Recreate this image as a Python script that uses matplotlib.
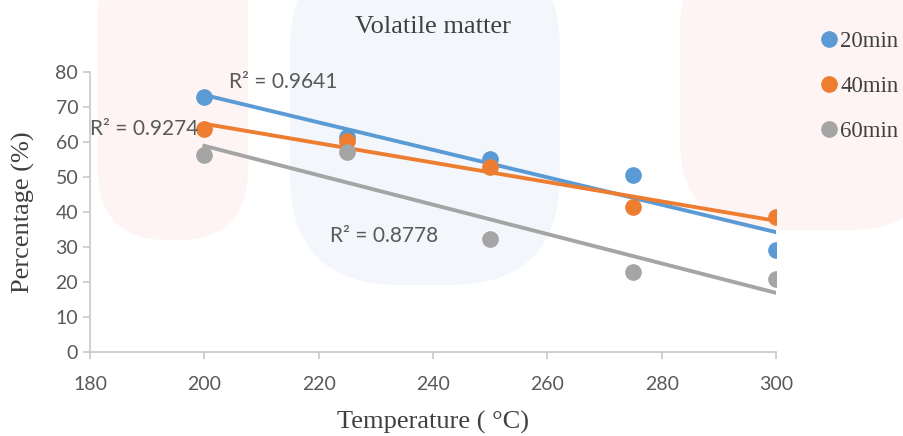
import numpy as np
import matplotlib.pyplot as plt
from matplotlib.patches import FancyBboxPatch

# data
temperatur = [200, 225, 250, 275, 300]
serier = ["20min", "40min", "60min"]
verdier_20 = [72.8, 61.5, 55.0, 50.7, 29.2]
verdier_40 = [63.8, 60.2, 52.8, 41.3, 38.6]
verdier_60 = [56.2, 57.2, 32.4, 22.8, 20.9]
r2_tekst = ["R² = 0.9641", "R² = 0.9274", "R² = 0.8778"]

farger = ["#5B9BD5", "#ED7D31", "#A5A5A5"]
r2_pos = [(204.3, 77.0), (180.0, 63.8), (222.0, 33.2)]

fig = plt.figure(figsize=(9.04, 4.36), dpi=100)

# faint watermark shapes in the background
wm = fig.add_axes([0, 0, 1, 1], zorder=-1)
wm.set_xlim(0, 904)
wm.set_ylim(436, 0)
wm.axis("off")
wm.add_patch(FancyBboxPatch((98, -60), 150, 300, boxstyle="round,pad=0,rounding_size=70",
                            fc="#fef4f4", ec="none"))
wm.add_patch(FancyBboxPatch((290, -60), 270, 345, boxstyle="round,pad=0,rounding_size=110",
                            fc="#f3f6fa", ec="none"))
wm.add_patch(FancyBboxPatch((680, -60), 260, 290, boxstyle="round,pad=0,rounding_size=90",
                            fc="#fef4f4", ec="none"))

ax = fig.add_axes([90 / 904, 1 - 352 / 436, 686 / 904, 280 / 436])
ax.patch.set_alpha(0)

for verdier, navn, farge in zip([verdier_20, verdier_40, verdier_60], serier, farger):
    ax.plot(temperatur, verdier, "o", ms=11, color=farge, label=navn, zorder=3)
    k, m = np.polyfit(temperatur, verdier, 1)
    x = np.array([temperatur[0], temperatur[-1]])
    ax.plot(x, k * x + m, color=farge, lw=2.8, zorder=2)

for tekst, (px, py) in zip(r2_tekst, r2_pos):
    ax.text(px, py, tekst, fontsize=15, family="Lato", color="#595959", va="center")

ax.set_xlim(180, 300)
ax.set_ylim(0, 80)
ax.set_xticks(range(180, 301, 20))
ax.set_yticks(range(0, 81, 10))
for s in ["top", "right"]:
    ax.spines[s].set_visible(False)
for s in ["left", "bottom"]:
    ax.spines[s].set_color("#c8c8c8")
    ax.spines[s].set_linewidth(1.2)
ax.tick_params(colors="#c8c8c8", labelcolor="#595959", labelsize=14, length=5, width=1.2)
ax.tick_params(axis="x", pad=12)
for lab in ax.get_xticklabels() + ax.get_yticklabels():
    lab.set_family("Lato")

ax.set_title("Volatile matter", family="Liberation Serif", fontsize=19, color="#404040", pad=28)
ax.set_xlabel("Temperature ( °C)", family="Liberation Serif", fontsize=19, color="#404040", labelpad=13)
ax.set_ylabel("Percentage (%)", family="Liberation Serif", fontsize=19, color="#404040", labelpad=15)

leg = ax.legend(loc="upper left", bbox_to_anchor=(1.045, 1.18), frameon=False,
                prop={"family": "Liberation Serif", "size": 16.5}, labelspacing=1.05,
                handletextpad=-0.05, handlelength=1.1, markerscale=1.0, borderaxespad=0)
for t in leg.get_texts():
    t.set_color("#404040")

fig.savefig("out.png", dpi=100)
